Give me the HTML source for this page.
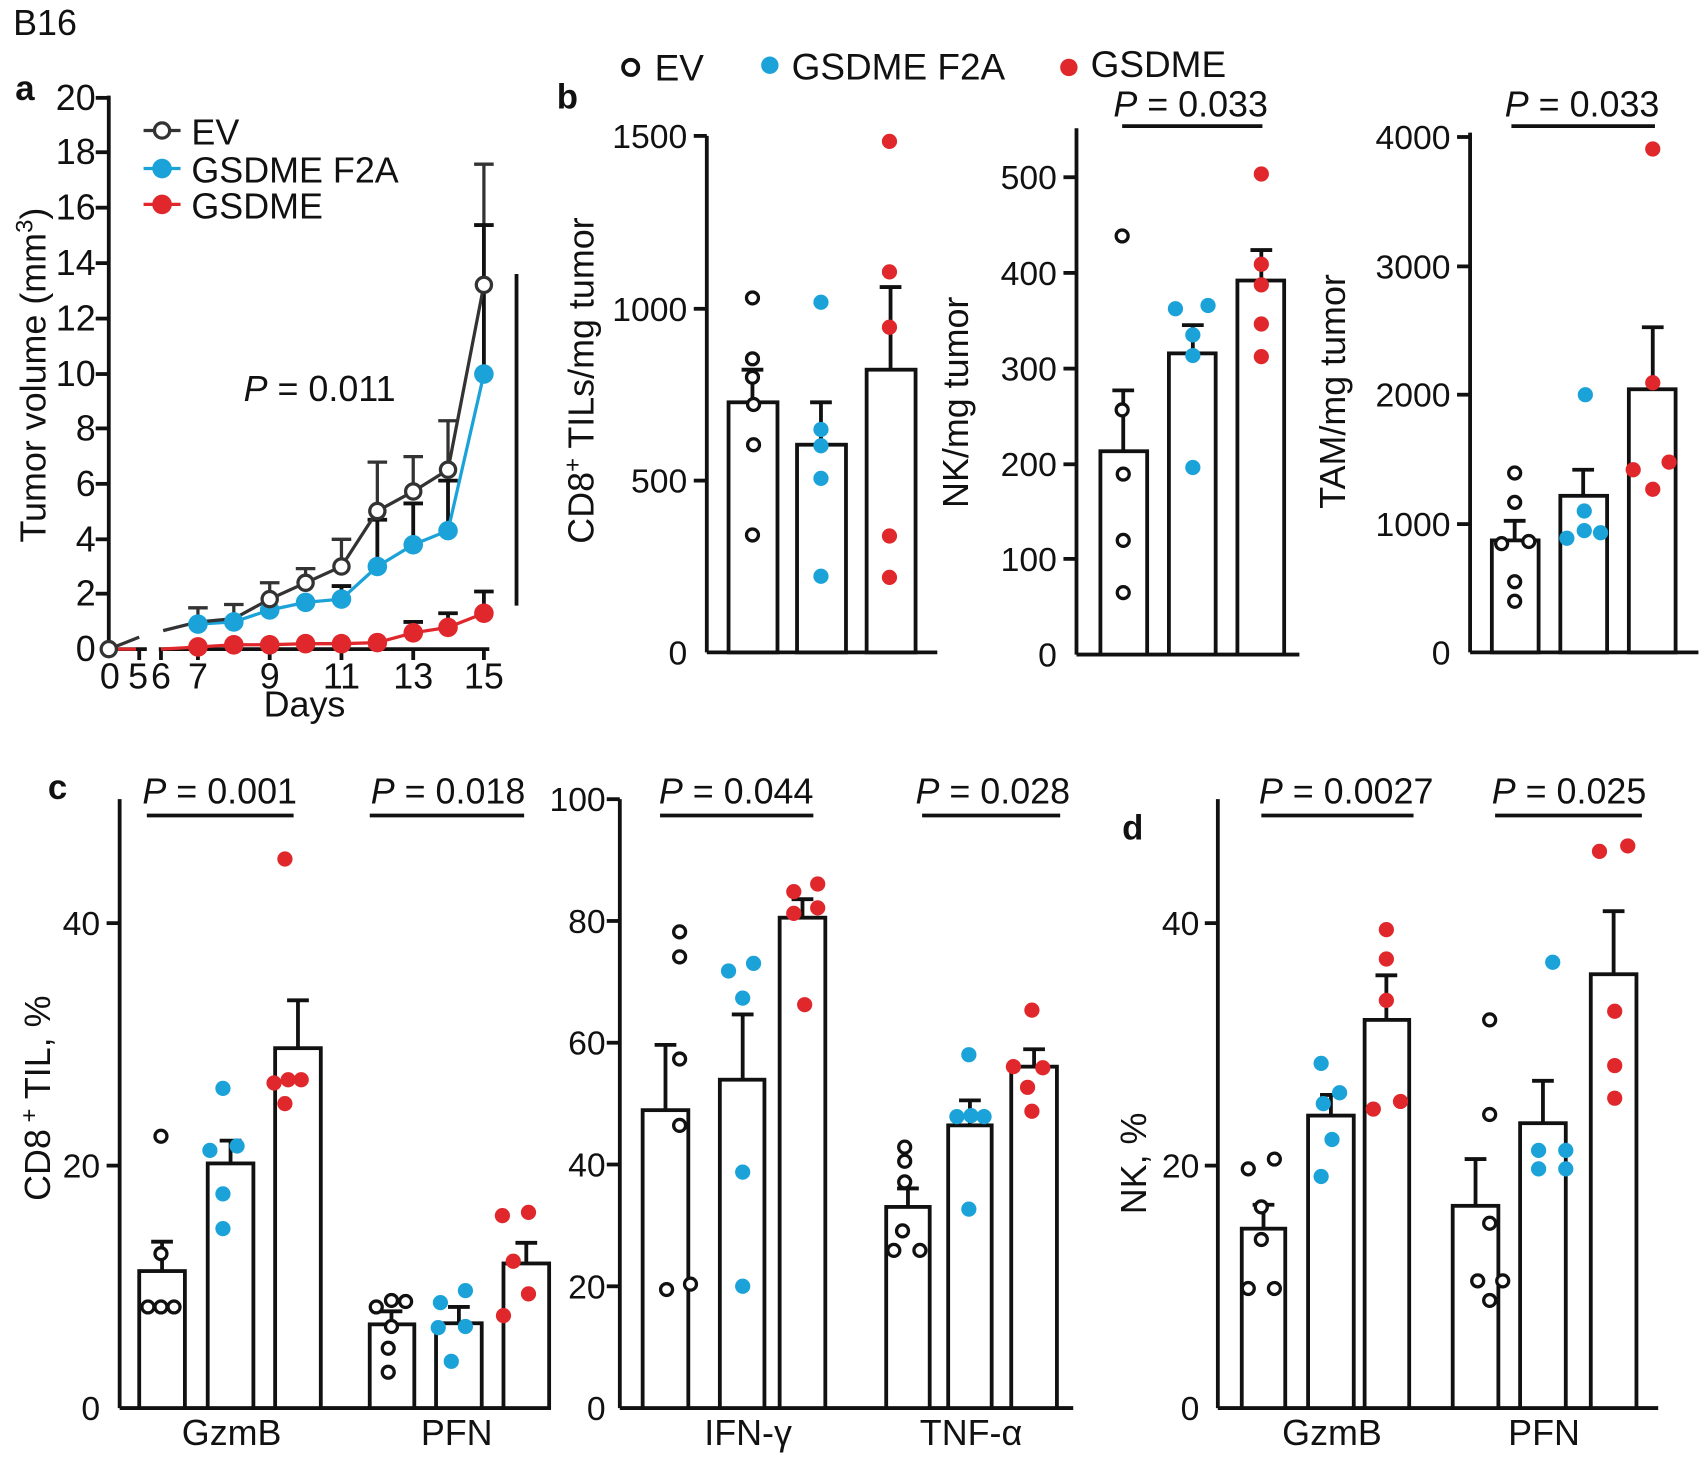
<!DOCTYPE html>
<html><head><meta charset="utf-8"><style>
html,body{margin:0;padding:0;background:#fff}
svg{display:block}
text{font-family:"Liberation Sans",Arial,sans-serif;fill:#111}
.t{font-size:33px}
.tb{font-size:31px}
.ax{stroke:#111;stroke-width:3.5;fill:none}
.bar{stroke:#111;stroke-width:3.5;fill:#fff}
.e{fill:#fff;stroke:#111;stroke-width:3}
.f{fill:#1ba3d9}
.g{fill:#e0282c}
</style></head><body>
<svg width="1705" height="1457" viewBox="0 0 1568 1340" xmlns="http://www.w3.org/2000/svg">
<text x="12" y="32" class="t">B16</text>

<!-- Panel a -->
<text x="14" y="92" style="font-size:32px;font-weight:bold">a</text>
<g class="ax">
<line x1="100" y1="88" x2="100" y2="597"/>
<line x1="100" y1="597" x2="135" y2="597"/>
<line x1="146" y1="597" x2="450" y2="597"/>
<line x1="88" y1="90" x2="100" y2="90"/><line x1="88" y1="140" x2="100" y2="140"/>
<line x1="88" y1="191" x2="100" y2="191"/><line x1="88" y1="242" x2="100" y2="242"/>
<line x1="88" y1="293" x2="100" y2="293"/><line x1="88" y1="344" x2="100" y2="344"/>
<line x1="88" y1="394" x2="100" y2="394"/><line x1="88" y1="445" x2="100" y2="445"/>
<line x1="88" y1="496" x2="100" y2="496"/><line x1="88" y1="546" x2="100" y2="546"/>
<line x1="128" y1="597" x2="128" y2="607"/><line x1="148" y1="597" x2="148" y2="607"/>
<line x1="182" y1="597" x2="182" y2="607"/><line x1="248" y1="597" x2="248" y2="607"/>
<line x1="314" y1="597" x2="314" y2="607"/><line x1="380" y1="597" x2="380" y2="607"/>
<line x1="445" y1="597" x2="445" y2="607"/>
</g>
<g class="t" text-anchor="end">
<text x="88" y="101">20</text><text x="88" y="151">18</text><text x="88" y="202">16</text>
<text x="88" y="253">14</text><text x="88" y="304">12</text><text x="88" y="355">10</text>
<text x="88" y="405">8</text><text x="88" y="456">6</text><text x="88" y="507">4</text>
<text x="88" y="557">2</text><text x="88" y="608">0</text>
</g>
<g class="t" text-anchor="middle">
<text x="101" y="633">0</text><text x="127" y="633">5</text><text x="148" y="633">6</text>
<text x="182" y="633">7</text><text x="248" y="633">9</text><text x="314" y="633">11</text>
<text x="380" y="633">13</text><text x="445" y="633">15</text>
<text x="280" y="659">Days</text>
</g>
<text transform="translate(42,345) rotate(-90)" class="t" text-anchor="middle">Tumor volume (mm<tspan dy="-12" style="font-size:22px">3</tspan><tspan dy="12">)</tspan></text>
<!-- error bars -->
<g stroke="#333" stroke-width="3">
<line x1="182" y1="572" x2="182" y2="559"/><line x1="173" y1="559" x2="191" y2="559"/>
<line x1="215" y1="569" x2="215" y2="556"/><line x1="206" y1="556" x2="224" y2="556"/>
<line x1="248" y1="551" x2="248" y2="536"/><line x1="239" y1="536" x2="257" y2="536"/>
<line x1="281" y1="536" x2="281" y2="523"/><line x1="272" y1="523" x2="290" y2="523"/>
<line x1="314" y1="521" x2="314" y2="496"/><line x1="305" y1="496" x2="323" y2="496"/>
<line x1="347" y1="470" x2="347" y2="425"/><line x1="338" y1="425" x2="356" y2="425"/>
<line x1="380" y1="452" x2="380" y2="420"/><line x1="371" y1="420" x2="389" y2="420"/>
<line x1="412" y1="432" x2="412" y2="387"/><line x1="403" y1="387" x2="421" y2="387"/>
<line x1="445" y1="262" x2="445" y2="151"/><line x1="436" y1="151" x2="454" y2="151"/>
</g>
<g stroke="#111" stroke-width="3.5">
<line x1="314" y1="551" x2="314" y2="539"/><line x1="305" y1="539" x2="323" y2="539"/>
<line x1="347" y1="521" x2="347" y2="478"/><line x1="338" y1="478" x2="356" y2="478"/>
<line x1="380" y1="501" x2="380" y2="463"/><line x1="371" y1="463" x2="389" y2="463"/>
<line x1="412" y1="488" x2="412" y2="442"/><line x1="403" y1="442" x2="421" y2="442"/>
<line x1="445" y1="344" x2="445" y2="207"/><line x1="436" y1="207" x2="454" y2="207"/>
<line x1="380" y1="582" x2="380" y2="572"/><line x1="371" y1="572" x2="389" y2="572"/>
<line x1="412" y1="577" x2="412" y2="564"/><line x1="403" y1="564" x2="421" y2="564"/>
<line x1="445" y1="564" x2="445" y2="544"/><line x1="436" y1="544" x2="454" y2="544"/>
</g>
<!-- lines -->
<polyline fill="none" stroke="#e0282c" stroke-width="3" points="100,597 125,597"/>
<polyline fill="none" stroke="#e0282c" stroke-width="3" points="148,597 182,595 215,593 248,593 281,592 314,592 347,591 380,582 412,577 445,564"/>
<polyline fill="none" stroke="#1ba3d9" stroke-width="3" points="182,574 215,572 248,561 281,554 314,551 347,521 380,501 412,488 445,344"/>
<polyline fill="none" stroke="#333" stroke-width="3" points="100,597 128,586"/>
<polyline fill="none" stroke="#333" stroke-width="3" points="150,580 182,572 215,569 248,551 281,536 314,521 347,470 380,452 412,432 445,262"/>
<g class="g">
<circle cx="182" cy="595" r="9"/><circle cx="215" cy="593" r="9"/><circle cx="248" cy="593" r="9"/>
<circle cx="281" cy="592" r="9"/><circle cx="314" cy="592" r="9"/><circle cx="347" cy="591" r="9"/>
<circle cx="380" cy="582" r="9"/><circle cx="412" cy="577" r="9"/><circle cx="445" cy="564" r="9"/>
</g>
<g class="f">
<circle cx="182" cy="574" r="9"/><circle cx="215" cy="572" r="9"/><circle cx="248" cy="561" r="9"/>
<circle cx="281" cy="554" r="9"/><circle cx="314" cy="551" r="9"/><circle cx="347" cy="521" r="9"/>
<circle cx="380" cy="501" r="9"/><circle cx="412" cy="488" r="9"/><circle cx="445" cy="344" r="9"/>
</g>
<g fill="#fff" stroke="#333" stroke-width="3">
<circle cx="100" cy="597" r="7"/>
<circle cx="248" cy="551" r="7"/><circle cx="281" cy="536" r="7"/><circle cx="314" cy="521" r="7"/>
<circle cx="347" cy="470" r="7"/><circle cx="380" cy="452" r="7"/><circle cx="412" cy="432" r="7"/>
<circle cx="445" cy="262" r="7"/>
</g>
<line x1="475" y1="252" x2="475" y2="557" stroke="#111" stroke-width="3.5"/>
<text x="224" y="369" class="t"><tspan font-style="italic">P</tspan> = 0.011</text>
<!-- legend a -->
<line x1="132" y1="120" x2="166" y2="120" stroke="#333" stroke-width="3"/>
<circle cx="149" cy="120" r="7" fill="#fff" stroke="#333" stroke-width="3"/>
<line x1="132" y1="155" x2="166" y2="155" stroke="#1ba3d9" stroke-width="3"/>
<circle cx="149" cy="155" r="9" class="f"/>
<line x1="132" y1="188" x2="166" y2="188" stroke="#e0282c" stroke-width="3"/>
<circle cx="149" cy="188" r="9" class="g"/>
<text x="176" y="133" class="t">EV</text>
<text x="176" y="168" class="t">GSDME F2A</text>
<text x="176" y="201" class="t">GSDME</text>

<!-- Legend b -->
<circle cx="580" cy="62" r="7" fill="#fff" stroke="#111" stroke-width="3.5"/>
<text x="602" y="74" class="t" style="font-size:34px">EV</text>
<circle cx="708" cy="60" r="8" class="f"/>
<text x="728" y="73" class="t" style="font-size:34px">GSDME F2A</text>
<circle cx="983" cy="62" r="8" class="g"/>
<text x="1003" y="71" class="t" style="font-size:34px">GSDME</text>
<text x="512" y="100" style="font-size:32px;font-weight:bold">b</text>

<!-- b1 -->
<g class="ax">
<line x1="650" y1="125" x2="650" y2="600"/><line x1="650" y1="600" x2="862" y2="600"/>
<line x1="638" y1="125" x2="650" y2="125"/><line x1="638" y1="284" x2="650" y2="284"/>
<line x1="638" y1="442" x2="650" y2="442"/>
</g>
<g class="tb" text-anchor="end">
<text x="632" y="136">1500</text><text x="632" y="295">1000</text><text x="632" y="453">500</text><text x="632" y="611">0</text>
</g>
<text transform="translate(546,350) rotate(-90)" class="t" text-anchor="middle">CD8<tspan dy="-12" style="font-size:22px">+</tspan><tspan dy="12"> TILs/mg tumor</tspan></text>
<rect x="670" y="370" width="45" height="230" class="bar"/>
<rect x="733" y="409" width="45" height="191" class="bar"/>
<rect x="797" y="340" width="45" height="260" class="bar"/>
<g stroke="#111" stroke-width="3.5">
<line x1="692" y1="370" x2="692" y2="340"/><line x1="682" y1="340" x2="702" y2="340"/>
<line x1="755" y1="409" x2="755" y2="370"/><line x1="745" y1="370" x2="765" y2="370"/>
<line x1="819" y1="340" x2="819" y2="264"/><line x1="809" y1="264" x2="829" y2="264"/>
</g>
<g class="e"><circle cx="692" cy="274" r="5.5"/><circle cx="692" cy="330" r="5.5"/><circle cx="692" cy="347" r="5.5"/>
<circle cx="693" cy="372" r="5.5"/><circle cx="693" cy="409" r="5.5"/><circle cx="692" cy="492" r="5.5"/></g>
<g class="f"><circle cx="755" cy="278" r="7"/><circle cx="755" cy="395" r="7"/><circle cx="755" cy="410" r="7"/>
<circle cx="755" cy="440" r="7"/><circle cx="755" cy="530" r="7"/></g>
<g class="g"><circle cx="818" cy="130" r="7"/><circle cx="818" cy="250" r="7"/><circle cx="818" cy="301" r="7"/>
<circle cx="818" cy="493" r="7"/><circle cx="818" cy="531" r="7"/></g>

<!-- b2 -->
<g class="ax">
<line x1="990" y1="118" x2="990" y2="602"/><line x1="990" y1="602" x2="1195" y2="602"/>
<line x1="978" y1="163" x2="990" y2="163"/><line x1="978" y1="251" x2="990" y2="251"/>
<line x1="978" y1="339" x2="990" y2="339"/><line x1="978" y1="427" x2="990" y2="427"/>
<line x1="978" y1="514" x2="990" y2="514"/>
</g>
<g class="tb" text-anchor="end">
<text x="972" y="174">500</text><text x="972" y="262">400</text><text x="972" y="350">300</text>
<text x="972" y="438">200</text><text x="972" y="525">100</text><text x="972" y="613">0</text>
</g>
<text transform="translate(890,370) rotate(-90)" class="t" text-anchor="middle">NK/mg tumor</text>
<rect x="1012" y="415" width="43" height="187" class="bar"/>
<rect x="1075" y="325" width="43" height="277" class="bar"/>
<rect x="1138" y="258" width="43" height="344" class="bar"/>
<g stroke="#111" stroke-width="3.5">
<line x1="1033" y1="415" x2="1033" y2="359"/><line x1="1023" y1="359" x2="1043" y2="359"/>
<line x1="1097" y1="325" x2="1097" y2="299"/><line x1="1087" y1="299" x2="1107" y2="299"/>
<line x1="1160" y1="258" x2="1160" y2="230"/><line x1="1150" y1="230" x2="1170" y2="230"/>
<line x1="1032" y1="116" x2="1161" y2="116"/>
</g>
<text x="1095" y="107" class="t" text-anchor="middle"><tspan font-style="italic">P</tspan> = 0.033</text>
<g class="e"><circle cx="1032" cy="217" r="5.5"/><circle cx="1032" cy="377" r="5.5"/><circle cx="1033" cy="436" r="5.5"/>
<circle cx="1033" cy="497" r="5.5"/><circle cx="1033" cy="545" r="5.5"/></g>
<g class="f"><circle cx="1081" cy="284" r="7"/><circle cx="1111" cy="281" r="7"/><circle cx="1097" cy="308" r="7"/>
<circle cx="1097" cy="327" r="7"/><circle cx="1097" cy="430" r="7"/></g>
<g class="g"><circle cx="1160" cy="160" r="7"/><circle cx="1160" cy="243" r="7"/><circle cx="1160" cy="262" r="7"/>
<circle cx="1160" cy="298" r="7"/><circle cx="1160" cy="328" r="7"/></g>

<!-- b3 -->
<g class="ax">
<line x1="1352" y1="122" x2="1352" y2="600"/><line x1="1352" y1="600" x2="1562" y2="600"/>
<line x1="1340" y1="126" x2="1352" y2="126"/><line x1="1340" y1="245" x2="1352" y2="245"/>
<line x1="1340" y1="363" x2="1352" y2="363"/><line x1="1340" y1="482" x2="1352" y2="482"/>
</g>
<g class="tb" text-anchor="end">
<text x="1334" y="137">4000</text><text x="1334" y="256">3000</text><text x="1334" y="374">2000</text>
<text x="1334" y="493">1000</text><text x="1334" y="611">0</text>
</g>
<text transform="translate(1237,360) rotate(-90)" class="t" text-anchor="middle">TAM/mg tumor</text>
<rect x="1372" y="497" width="43" height="103" class="bar"/>
<rect x="1435" y="456" width="43" height="144" class="bar"/>
<rect x="1498" y="358" width="43" height="242" class="bar"/>
<g stroke="#111" stroke-width="3.5">
<line x1="1393" y1="497" x2="1393" y2="479"/><line x1="1383" y1="479" x2="1403" y2="479"/>
<line x1="1456" y1="456" x2="1456" y2="432"/><line x1="1446" y1="432" x2="1466" y2="432"/>
<line x1="1520" y1="358" x2="1520" y2="301"/><line x1="1510" y1="301" x2="1530" y2="301"/>
<line x1="1390" y1="116" x2="1522" y2="116"/>
</g>
<text x="1455" y="107" class="t" text-anchor="middle"><tspan font-style="italic">P</tspan> = 0.033</text>
<g class="e"><circle cx="1393" cy="435" r="5.5"/><circle cx="1393" cy="462" r="5.5"/><circle cx="1381" cy="500" r="5.5"/>
<circle cx="1406" cy="498" r="5.5"/><circle cx="1393" cy="535" r="5.5"/><circle cx="1393" cy="553" r="5.5"/></g>
<g class="f"><circle cx="1458" cy="363" r="7"/><circle cx="1457" cy="470" r="7"/><circle cx="1457" cy="488" r="7"/>
<circle cx="1441" cy="495" r="7"/><circle cx="1472" cy="490" r="7"/></g>
<g class="g"><circle cx="1520" cy="137" r="7"/><circle cx="1520" cy="352" r="7"/><circle cx="1502" cy="432" r="7"/>
<circle cx="1535" cy="425" r="7"/><circle cx="1520" cy="450" r="7"/></g>

<!-- Panel c1 -->
<text x="44" y="735" style="font-size:32px;font-weight:bold">c</text>
<g class="ax">
<line x1="110" y1="735" x2="110" y2="1295"/><line x1="110" y1="1295" x2="502" y2="1295"/>
<line x1="98" y1="849" x2="110" y2="849"/><line x1="98" y1="1072" x2="110" y2="1072"/>
</g>
<g class="tb" text-anchor="end">
<text x="92" y="860">40</text><text x="92" y="1083">20</text><text x="92" y="1306">0</text>
</g>
<text transform="translate(46,1010) rotate(-90)" class="t" text-anchor="middle">CD8<tspan dy="-12" style="font-size:22px"> +</tspan><tspan dy="12"> TIL, %</tspan></text>
<rect x="128" y="1169" width="42" height="126" class="bar"/>
<rect x="191" y="1070" width="42" height="225" class="bar"/>
<rect x="253" y="964" width="42" height="331" class="bar"/>
<rect x="340" y="1218" width="41" height="77" class="bar"/>
<rect x="401" y="1217" width="42" height="78" class="bar"/>
<rect x="463" y="1162" width="42" height="133" class="bar"/>
<g stroke="#111" stroke-width="3.5">
<line x1="149" y1="1169" x2="149" y2="1142"/><line x1="139" y1="1142" x2="159" y2="1142"/>
<line x1="212" y1="1070" x2="212" y2="1049"/><line x1="202" y1="1049" x2="222" y2="1049"/>
<line x1="274" y1="964" x2="274" y2="920"/><line x1="264" y1="920" x2="284" y2="920"/>
<line x1="360" y1="1218" x2="360" y2="1206"/><line x1="350" y1="1206" x2="370" y2="1206"/>
<line x1="422" y1="1217" x2="422" y2="1202"/><line x1="412" y1="1202" x2="432" y2="1202"/>
<line x1="484" y1="1162" x2="484" y2="1143"/><line x1="474" y1="1143" x2="494" y2="1143"/>
<line x1="135" y1="750" x2="270" y2="750"/><line x1="340" y1="750" x2="482" y2="750"/>
</g>
<text x="202" y="739" class="t" text-anchor="middle"><tspan font-style="italic">P</tspan> = 0.001</text>
<text x="412" y="739" class="t" text-anchor="middle"><tspan font-style="italic">P</tspan> = 0.018</text>
<text x="213" y="1329" class="t" text-anchor="middle">GzmB</text>
<text x="420" y="1329" class="t" text-anchor="middle">PFN</text>
<g class="e"><circle cx="148" cy="1045" r="5.5"/><circle cx="148" cy="1153" r="5.5"/><circle cx="136" cy="1202" r="5.5"/>
<circle cx="148" cy="1202" r="5.5"/><circle cx="160" cy="1202" r="5.5"/>
<circle cx="346" cy="1202" r="5.5"/><circle cx="360" cy="1196" r="5.5"/><circle cx="373" cy="1197" r="5.5"/>
<circle cx="360" cy="1220" r="5.5"/><circle cx="357" cy="1240" r="5.5"/><circle cx="357" cy="1262" r="5.5"/></g>
<g class="f"><circle cx="205" cy="1001" r="7"/><circle cx="193" cy="1058" r="7"/><circle cx="218" cy="1054" r="7"/>
<circle cx="205" cy="1098" r="7"/><circle cx="205" cy="1130" r="7"/>
<circle cx="405" cy="1198" r="7"/><circle cx="428" cy="1187" r="7"/><circle cx="403" cy="1221" r="7"/>
<circle cx="428" cy="1220" r="7"/><circle cx="415" cy="1252" r="7"/></g>
<g class="g"><circle cx="262" cy="790" r="7"/><circle cx="252" cy="996" r="7"/><circle cx="265" cy="993" r="7"/>
<circle cx="277" cy="993" r="7"/><circle cx="262" cy="1015" r="7"/>
<circle cx="462" cy="1118" r="7"/><circle cx="486" cy="1115" r="7"/><circle cx="472" cy="1160" r="7"/>
<circle cx="486" cy="1190" r="7"/><circle cx="463" cy="1210" r="7"/></g>

<!-- Panel c2 -->
<g class="ax">
<line x1="570" y1="735" x2="570" y2="1295"/><line x1="570" y1="1295" x2="987" y2="1295"/>
<line x1="558" y1="735" x2="570" y2="735"/><line x1="558" y1="847" x2="570" y2="847"/>
<line x1="558" y1="959" x2="570" y2="959"/><line x1="558" y1="1071" x2="570" y2="1071"/>
<line x1="558" y1="1183" x2="570" y2="1183"/>
</g>
<g class="tb" text-anchor="end">
<text x="557" y="746">100</text><text x="557" y="858">80</text><text x="557" y="970">60</text>
<text x="557" y="1082">40</text><text x="557" y="1194">20</text><text x="557" y="1306">0</text>
</g>
<rect x="591" y="1021" width="42" height="274" class="bar"/>
<rect x="662" y="993" width="41" height="302" class="bar"/>
<rect x="717" y="844" width="42" height="451" class="bar"/>
<rect x="815" y="1110" width="40" height="185" class="bar"/>
<rect x="872" y="1035" width="40" height="260" class="bar"/>
<rect x="930" y="981" width="42" height="314" class="bar"/>
<g stroke="#111" stroke-width="3.5">
<line x1="612" y1="1021" x2="612" y2="961"/><line x1="602" y1="961" x2="622" y2="961"/>
<line x1="683" y1="993" x2="683" y2="933"/><line x1="673" y1="933" x2="693" y2="933"/>
<line x1="738" y1="844" x2="738" y2="827"/><line x1="728" y1="827" x2="748" y2="827"/>
<line x1="835" y1="1110" x2="835" y2="1093"/><line x1="825" y1="1093" x2="845" y2="1093"/>
<line x1="892" y1="1035" x2="892" y2="1012"/><line x1="882" y1="1012" x2="902" y2="1012"/>
<line x1="951" y1="981" x2="951" y2="965"/><line x1="941" y1="965" x2="961" y2="965"/>
<line x1="607" y1="750" x2="748" y2="750"/><line x1="848" y1="750" x2="975" y2="750"/>
</g>
<text x="677" y="739" class="t" text-anchor="middle"><tspan font-style="italic">P</tspan> = 0.044</text>
<text x="913" y="739" class="t" text-anchor="middle"><tspan font-style="italic">P</tspan> = 0.028</text>
<text x="688" y="1329" class="t" text-anchor="middle">IFN-γ</text>
<text x="893" y="1329" class="t" text-anchor="middle">TNF-α</text>
<g class="e"><circle cx="625" cy="857" r="5.5"/><circle cx="625" cy="880" r="5.5"/><circle cx="625" cy="974" r="5.5"/>
<circle cx="625" cy="1035" r="5.5"/><circle cx="613" cy="1186" r="5.5"/><circle cx="635" cy="1181" r="5.5"/>
<circle cx="832" cy="1055" r="5.5"/><circle cx="832" cy="1068" r="5.5"/><circle cx="832" cy="1087" r="5.5"/>
<circle cx="830" cy="1132" r="5.5"/><circle cx="822" cy="1150" r="5.5"/><circle cx="846" cy="1150" r="5.5"/></g>
<g class="f"><circle cx="670" cy="893" r="7"/><circle cx="693" cy="886" r="7"/><circle cx="683" cy="918" r="7"/>
<circle cx="683" cy="1078" r="7"/><circle cx="683" cy="1183" r="7"/>
<circle cx="891" cy="970" r="7"/><circle cx="880" cy="1027" r="7"/><circle cx="893" cy="1026" r="7"/>
<circle cx="905" cy="1027" r="7"/><circle cx="891" cy="1112" r="7"/></g>
<g class="g"><circle cx="730" cy="820" r="7"/><circle cx="752" cy="813" r="7"/><circle cx="730" cy="840" r="7"/>
<circle cx="752" cy="835" r="7"/><circle cx="740" cy="924" r="7"/>
<circle cx="949" cy="929" r="7"/><circle cx="932" cy="981" r="7"/><circle cx="959" cy="982" r="7"/>
<circle cx="945" cy="1000" r="7"/><circle cx="949" cy="1022" r="7"/></g>

<!-- Panel d -->
<text x="1032" y="772" style="font-size:32px;font-weight:bold">d</text>
<g class="ax">
<line x1="1120" y1="735" x2="1120" y2="1295"/><line x1="1120" y1="1295" x2="1525" y2="1295"/>
<line x1="1108" y1="849" x2="1120" y2="849"/><line x1="1108" y1="1072" x2="1120" y2="1072"/>
</g>
<g class="tb" text-anchor="end">
<text x="1103" y="860">40</text><text x="1103" y="1083">20</text><text x="1103" y="1306">0</text>
</g>
<text transform="translate(1054,1070) rotate(-90)" class="t" text-anchor="middle">NK, %</text>
<rect x="1142" y="1130" width="40" height="165" class="bar"/>
<rect x="1203" y="1026" width="42" height="269" class="bar"/>
<rect x="1255" y="938" width="41" height="357" class="bar"/>
<rect x="1336" y="1109" width="42" height="186" class="bar"/>
<rect x="1398" y="1033" width="42" height="262" class="bar"/>
<rect x="1463" y="896" width="42" height="399" class="bar"/>
<g stroke="#111" stroke-width="3.5">
<line x1="1162" y1="1130" x2="1162" y2="1108"/><line x1="1152" y1="1108" x2="1172" y2="1108"/>
<line x1="1224" y1="1026" x2="1224" y2="1007"/><line x1="1214" y1="1007" x2="1234" y2="1007"/>
<line x1="1275" y1="938" x2="1275" y2="897"/><line x1="1265" y1="897" x2="1285" y2="897"/>
<line x1="1357" y1="1109" x2="1357" y2="1066"/><line x1="1347" y1="1066" x2="1367" y2="1066"/>
<line x1="1419" y1="1033" x2="1419" y2="994"/><line x1="1409" y1="994" x2="1429" y2="994"/>
<line x1="1484" y1="896" x2="1484" y2="838"/><line x1="1474" y1="838" x2="1494" y2="838"/>
<line x1="1160" y1="750" x2="1300" y2="750"/><line x1="1375" y1="750" x2="1510" y2="750"/>
</g>
<text x="1238" y="739" class="t" text-anchor="middle"><tspan font-style="italic">P</tspan> = 0.0027</text>
<text x="1443" y="739" class="t" text-anchor="middle"><tspan font-style="italic">P</tspan> = 0.025</text>
<text x="1225" y="1329" class="t" text-anchor="middle">GzmB</text>
<text x="1420" y="1329" class="t" text-anchor="middle">PFN</text>
<g class="e"><circle cx="1148" cy="1075" r="5.5"/><circle cx="1172" cy="1066" r="5.5"/><circle cx="1160" cy="1110" r="5.5"/>
<circle cx="1160" cy="1140" r="5.5"/><circle cx="1148" cy="1185" r="5.5"/><circle cx="1172" cy="1185" r="5.5"/>
<circle cx="1370" cy="938" r="5.5"/><circle cx="1370" cy="1025" r="5.5"/><circle cx="1370" cy="1125" r="5.5"/>
<circle cx="1359" cy="1178" r="5.5"/><circle cx="1382" cy="1178" r="5.5"/><circle cx="1370" cy="1196" r="5.5"/></g>
<g class="f"><circle cx="1215" cy="978" r="7"/><circle cx="1232" cy="1005" r="7"/><circle cx="1217" cy="1015" r="7"/>
<circle cx="1225" cy="1048" r="7"/><circle cx="1215" cy="1082" r="7"/>
<circle cx="1428" cy="885" r="7"/><circle cx="1415" cy="1058" r="7"/><circle cx="1440" cy="1058" r="7"/>
<circle cx="1415" cy="1075" r="7"/><circle cx="1440" cy="1075" r="7"/></g>
<g class="g"><circle cx="1275" cy="855" r="7"/><circle cx="1275" cy="882" r="7"/><circle cx="1275" cy="920" r="7"/>
<circle cx="1263" cy="1020" r="7"/><circle cx="1288" cy="1013" r="7"/>
<circle cx="1471" cy="783" r="7"/><circle cx="1497" cy="778" r="7"/><circle cx="1485" cy="930" r="7"/>
<circle cx="1485" cy="980" r="7"/><circle cx="1485" cy="1010" r="7"/></g>
</svg>
</body></html>
